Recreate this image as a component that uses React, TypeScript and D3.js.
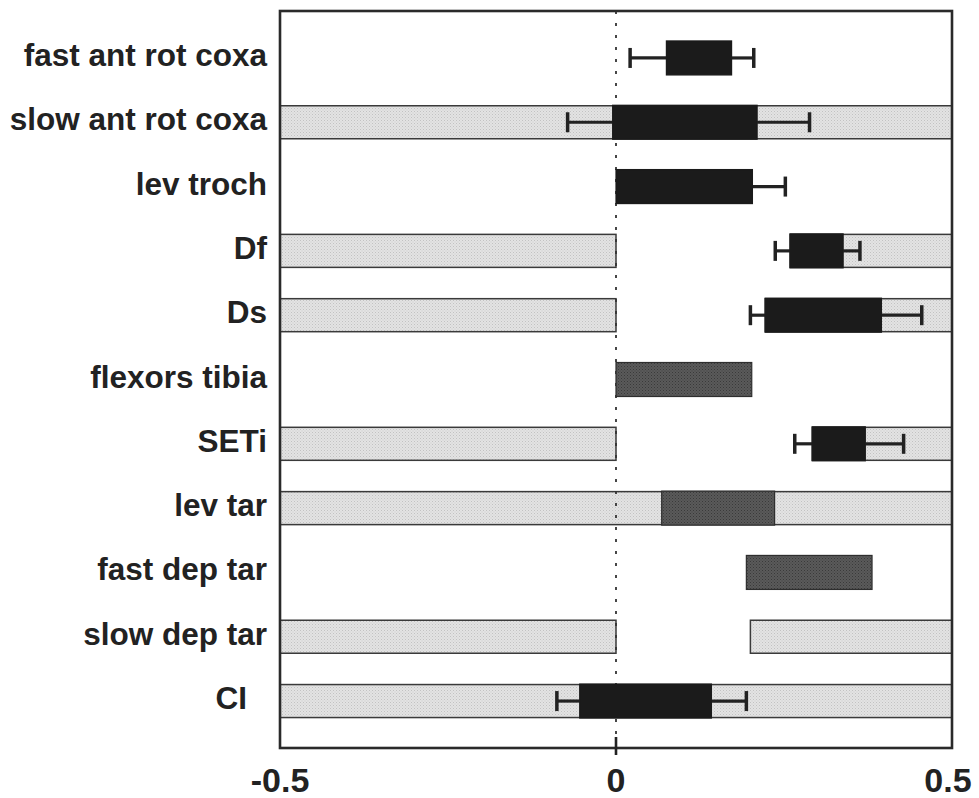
import React from "react";
import * as d3 from "d3";

// ---- data ----
const categories = [
  "fast ant rot coxa",
  "slow ant rot coxa",
  "lev troch",
  "Df",
  "Ds",
  "flexors tibia",
  "SETi",
  "lev tar",
  "fast dep tar",
  "slow dep tar",
  "CI",
];

// light (background) phase windows: [category, start, end]
const lightBars: [string, number, number][] = [
  ["slow ant rot coxa", -0.5, 0.5],
  ["Df", -0.5, 0],
  ["Df", 0.259, 0.5],
  ["Ds", -0.5, 0],
  ["Ds", 0.222, 0.5],
  ["SETi", -0.5, 0],
  ["SETi", 0.292, 0.5],
  ["lev tar", -0.5, 0.5],
  ["slow dep tar", -0.5, 0],
  ["slow dep tar", 0.2, 0.5],
  ["CI", -0.5, 0.5],
];

// main boxes: [category, start, end, kind]
const boxes: [string, number, number, "black" | "grey"][] = [
  ["fast ant rot coxa", 0.075, 0.172, "black"],
  ["slow ant rot coxa", -0.005, 0.21, "black"],
  ["lev troch", 0.0, 0.203, "black"],
  ["Df", 0.259, 0.338, "black"],
  ["Ds", 0.222, 0.395, "black"],
  ["flexors tibia", 0.0, 0.202, "grey"],
  ["SETi", 0.292, 0.371, "black"],
  ["lev tar", 0.068, 0.236, "grey"],
  ["fast dep tar", 0.194, 0.381, "grey"],
  ["CI", -0.054, 0.142, "black"],
];

// error bars: [category, low, high] (null = not visible)
const errorBars: [string, number | null, number | null][] = [
  ["fast ant rot coxa", 0.021, 0.205],
  ["slow ant rot coxa", -0.072, 0.288],
  ["lev troch", null, 0.252],
  ["Df", 0.237, 0.363],
  ["Ds", 0.2, 0.455],
  ["SETi", 0.266, 0.428],
  ["CI", -0.088, 0.194],
];

const xTickLabels = ["-0.5", "0", "0.5"];
const xTickValues = [-0.5, 0, 0.5];
const xTickMarks = [0];

// label offsets (the CI label sits further left in the original)
const labelShift: Record<string, number> = { CI: -20 };

export default function App() {
  const W = 979;
  const H = 798;
  const left = 280;
  const right = 952;
  const top = 11;
  const bottom = 748;

  const x = d3.scaleLinear().domain([-0.5, 0.5]).range([left, right]);
  const y = d3
    .scalePoint<string>()
    .domain(categories)
    .range([top, bottom])
    .padding(0.73);
  const bh = 33;
  const capH = 20;
  const font = "'Liberation Sans', Arial, Helvetica, sans-serif";

  return (
    <svg
      width={W}
      height={H}
      style={{ position: "absolute", left: 0, top: 0, background: "#fff" }}
    >
      <defs>
        <pattern id="light" width="3" height="3" patternUnits="userSpaceOnUse">
          <rect width="3" height="3" fill="#e3e3e3" />
          <rect x="0" y="0" width="1" height="1" fill="#c2c2c2" />
          <rect x="1.5" y="1.5" width="1" height="1" fill="#cdcdcd" />
        </pattern>
        <pattern id="dark" width="3" height="3" patternUnits="userSpaceOnUse">
          <rect width="3" height="3" fill="#5a5a5a" />
          <rect x="0" y="0" width="1" height="1" fill="#3a3a3a" />
          <rect x="1.5" y="1.5" width="1" height="1" fill="#424242" />
        </pattern>
      </defs>

      {/* light background bars */}
      {lightBars.map(([c, s, e], i) => (
        <rect
          key={"l" + i}
          x={x(s)}
          y={(y(c) as number) - bh / 2}
          width={x(e) - x(s)}
          height={bh}
          fill="url(#light)"
          stroke="#3a3a3a"
          strokeWidth={1.5}
        />
      ))}

      {/* zero dotted line */}
      <line
        x1={x(0)}
        x2={x(0)}
        y1={top}
        y2={bottom}
        stroke="#333"
        strokeWidth={1.8}
        strokeDasharray="3,9"
      />

      {/* error bars */}
      {errorBars.map(([c, lo, hi], i) => {
        const cy = y(c) as number;
        const box = boxes.find((b) => b[0] === c)!;
        const parts: JSX.Element[] = [];
        if (lo !== null) {
          parts.push(
            <line key="ll" x1={x(lo)} x2={x(box[1])} y1={cy} y2={cy} stroke="#222" strokeWidth={3.2} />,
            <line key="lc" x1={x(lo)} x2={x(lo)} y1={cy - capH / 2} y2={cy + capH / 2} stroke="#222" strokeWidth={3.5} />
          );
        }
        if (hi !== null) {
          parts.push(
            <line key="hl" x1={x(box[2])} x2={x(hi)} y1={cy} y2={cy} stroke="#222" strokeWidth={3.2} />,
            <line key="hc" x1={x(hi)} x2={x(hi)} y1={cy - capH / 2} y2={cy + capH / 2} stroke="#222" strokeWidth={3.5} />
          );
        }
        return <g key={"e" + i}>{parts}</g>;
      })}

      {/* main boxes */}
      {boxes.map(([c, s, e, k], i) => (
        <rect
          key={"b" + i}
          x={x(s)}
          y={(y(c) as number) - bh / 2 - 0.5}
          width={x(e) - x(s)}
          height={bh + 1}
          fill={k === "black" ? "#1b1b1b" : "url(#dark)"}
          stroke={k === "black" ? "#1b1b1b" : "#2e2e2e"}
          strokeWidth={1.2}
        />
      ))}

      {/* frame */}
      <rect
        x={left}
        y={top}
        width={right - left}
        height={bottom - top}
        fill="none"
        stroke="#2a2a2a"
        strokeWidth={2.6}
      />

      {/* tick marks */}
      {xTickMarks.map((t) => (
        <line
          key={"t" + t}
          x1={x(t)}
          x2={x(t)}
          y1={bottom - 11}
          y2={bottom + 7}
          stroke="#222"
          strokeWidth={2.6}
        />
      ))}

      {/* tick labels */}
      {xTickValues.map((t, i) => (
        <text
          key={"tl" + t}
          x={x(t) - (t === 0.5 ? 4 : 0)}
          y={792}
          textAnchor="middle"
          fontFamily={font}
          fontWeight="bold"
          fontSize={34}
          fill="#222"
        >
          {xTickLabels[i]}
        </text>
      ))}

      {/* category labels */}
      {categories.map((c) => (
        <text
          key={"c" + c}
          x={267 + (labelShift[c] || 0)}
          y={(y(c) as number) + 8}
          textAnchor="end"
          fontFamily={font}
          fontWeight="bold"
          fontSize={31.5}
          fill="#222"
        >
          {c}
        </text>
      ))}
    </svg>
  );
}
